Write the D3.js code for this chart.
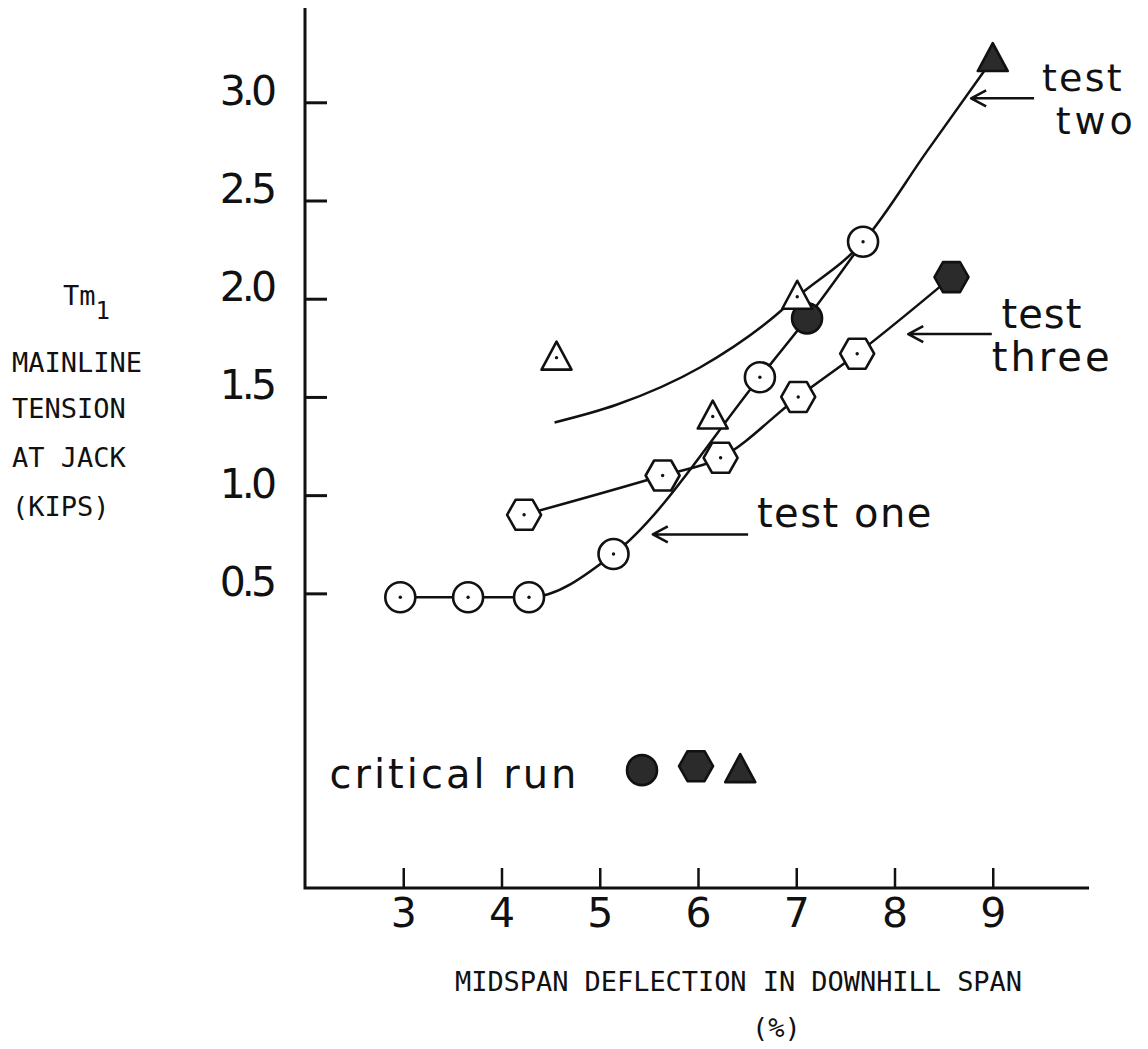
<!DOCTYPE html>
<html>
<head>
<meta charset="utf-8">
<script src="https://d3js.org/d3.v7.min.js"></script>
<style>
body { margin: 0; background: #fff; }
.mono { font-family: "DejaVu Sans Mono", monospace; font-size: 27px; fill: #111; }
.lettr { font-family: "DejaVu Sans", sans-serif; font-size: 40px; fill: #111; }
</style>
</head>
<body>
<svg width="1148" height="1049"></svg>
<script>
// values: x = midspan deflection (%), y = Tm1 (kips)
var xTicks = [3, 4, 5, 6, 7, 8, 9];
var yTicks = [0.5, 1.0, 1.5, 2.0, 2.5, 3.0];

// test one (circles)
var oneX = [2.97, 3.66, 4.28, 5.14, 6.63, 7.11, 7.68];
var oneY = [0.48, 0.48, 0.48, 0.70, 1.60, 1.90, 2.29];
var oneFilled = [0, 0, 0, 0, 0, 1, 0];

// test two (triangles) and its hand-drawn curve
var twoX = [4.56, 6.15, 7.01, 9.00];
var twoY = [1.70, 1.40, 2.01, 3.22];
var twoFilled = [0, 0, 0, 1];
var twoCurveX = [4.54, 5.17, 6.02, 6.73, 7.01, 7.68, 8.33, 9.00];
var twoCurveY = [1.37, 1.46, 1.65, 1.89, 2.01, 2.29, 2.75, 3.22];

// test three (hexagons)
var threeX = [4.23, 5.64, 6.23, 7.02, 7.62, 8.58];
var threeY = [0.90, 1.10, 1.19, 1.50, 1.72, 2.11];
var threeFilled = [0, 0, 0, 0, 0, 1];

var svg = d3.select("svg");
var ink = "#111";
var x = d3.scaleLinear().domain([2, 10]).range([305, 1091]);
var y = d3.scaleLinear().domain([-1, 3.48]).range([888, 8]);

// axes
var gy = svg.append("g")
  .attr("transform", "translate(" + x(2) + ",0)")
  .call(d3.axisLeft(y).tickValues(yTicks).tickFormat(d3.format(".1f"))
    .tickSizeInner(-22).tickSizeOuter(0).tickPadding(32));
gy.select(".domain").remove();
gy.selectAll(".tick line").attr("stroke", ink).attr("stroke-width", 3);
gy.selectAll(".tick text")
  .attr("font-family", "DejaVu Sans").attr("font-size", 41)
  .attr("letter-spacing", -4).attr("dy", "0.05em").attr("fill", ink);

var gx = svg.append("g")
  .attr("transform", "translate(0," + y(-1) + ")")
  .call(d3.axisBottom(x).tickValues(xTicks).tickFormat(d3.format("d"))
    .tickSizeInner(-20).tickSizeOuter(0).tickPadding(10));
gx.select(".domain").remove();
gx.selectAll(".tick line").attr("stroke", ink).attr("stroke-width", 2.5);
gx.selectAll(".tick text")
  .attr("font-family", "DejaVu Sans").attr("font-size", 41).attr("fill", ink);

svg.append("path")
  .attr("d", "M" + x(2) + "," + y(3.48) + "V" + y(-1) + "H" + x(9.98))
  .attr("fill", "none").attr("stroke", ink).attr("stroke-width", 3);

// curves
var line = d3.line().x(function (d) { return x(d[0]); }).y(function (d) { return y(d[1]); })
  .curve(d3.curveMonotoneX);
function pairs(a, b) { return a.map(function (v, i) { return [v, b[i]]; }); }

[pairs(oneX, oneY), pairs(twoCurveX, twoCurveY), pairs(threeX, threeY)].forEach(function (pts) {
  svg.append("path").attr("d", line(pts))
    .attr("fill", "none").attr("stroke", ink).attr("stroke-width", 2.5);
});

// marker shapes
function hexPath(cx, cy) {
  var r = 17, h = 15;
  return "M" + (cx - r) + "," + cy + "L" + (cx - r / 2) + "," + (cy - h) + "L" + (cx + r / 2) + "," + (cy - h) +
    "L" + (cx + r) + "," + cy + "L" + (cx + r / 2) + "," + (cy + h) + "L" + (cx - r / 2) + "," + (cy + h) + "Z";
}
function triPath(cx, cy) {
  return "M" + cx + "," + (cy - 16) + "L" + (cx + 15) + "," + (cy + 12) + "L" + (cx - 15) + "," + (cy + 12) + "Z";
}
var filledCol = "#2b2b2b";
function marker(kind, px, py, filled) {
  var el;
  if (kind === "circle") el = svg.append("circle").attr("cx", px).attr("cy", py).attr("r", 15);
  else el = svg.append("path").attr("d", kind === "hex" ? hexPath(px, py) : triPath(px, py));
  el.attr("fill", filled ? filledCol : "#fff").attr("stroke", ink)
    .attr("stroke-width", 2.6).attr("stroke-linejoin", "round");
  if (!filled) svg.append("circle").attr("cx", px).attr("cy", py).attr("r", 1.7).attr("fill", ink);
}

oneX.forEach(function (v, i) { marker("circle", x(v), y(oneY[i]), oneFilled[i]); });
threeX.forEach(function (v, i) { marker("hex", x(v), y(threeY[i]), threeFilled[i]); });
twoX.forEach(function (v, i) { marker("tri", x(v), y(twoY[i]), twoFilled[i]); });

// arrows with open heads
function arrow(x0, x1, yv) {
  var a = x(x0), b = x(x1), c = y(yv);
  svg.append("path")
    .attr("d", "M" + b + "," + c + "H" + a + "M" + (a + 15) + "," + (c - 8) + "L" + a + "," + c + "L" + (a + 15) + "," + (c + 8))
    .attr("fill", "none").attr("stroke", ink).attr("stroke-width", 2.5).attr("stroke-linejoin", "round");
}
// a label of one or two stacked lines: [text, x, y, letter-spacing]
function label(rows, size) {
  var t = svg.append("text").attr("class", "lettr");
  if (size) t.style("font-size", size + "px");
  rows.forEach(function (r) {
    t.append("tspan").attr("x", x(r[1])).attr("y", y(r[2])).attr("letter-spacing", r[3]).text(r[0]);
  });
}
arrow(8.78, 9.42, 3.02);
label([["test", 9.50, 3.06, 2.3], ["two", 9.64, 2.84, 4]], 38);
arrow(8.14, 8.99, 1.82);
label([["test", 9.09, 1.85, 1], ["three", 8.99, 1.63, 3]]);
arrow(5.54, 6.51, 0.80);
label([["test one", 6.60, 0.84, 1.5]]);

// critical run key
label([["critical run", 2.25, -0.49, 3]]);
marker("circle", x(5.43), y(-0.40), 1);
marker("hex", x(5.98), y(-0.38), 1);
marker("tri", x(6.43), y(-0.40), 1);

// axis titles
var yt = svg.append("text").attr("class", "mono").attr("x", 63).attr("y", 305);
yt.append("tspan").text("Tm");
yt.append("tspan").attr("dy", 14).attr("font-size", 24).text("1");
[["MAINLINE", 372], ["TENSION", 418], ["AT JACK", 467], ["(KIPS)", 516]].forEach(function (r) {
  svg.append("text").attr("class", "mono").attr("x", 12).attr("y", r[1]).text(r[0]);
});
svg.append("text").attr("class", "mono").attr("x", 455).attr("y", 991)
  .attr("textLength", 567).attr("lengthAdjust", "spacing")
  .text("MIDSPAN DEFLECTION IN DOWNHILL SPAN");
svg.append("text").attr("class", "mono").attr("x", 752).attr("y", 1037).text("(%)");
</script>
</body>
</html>
